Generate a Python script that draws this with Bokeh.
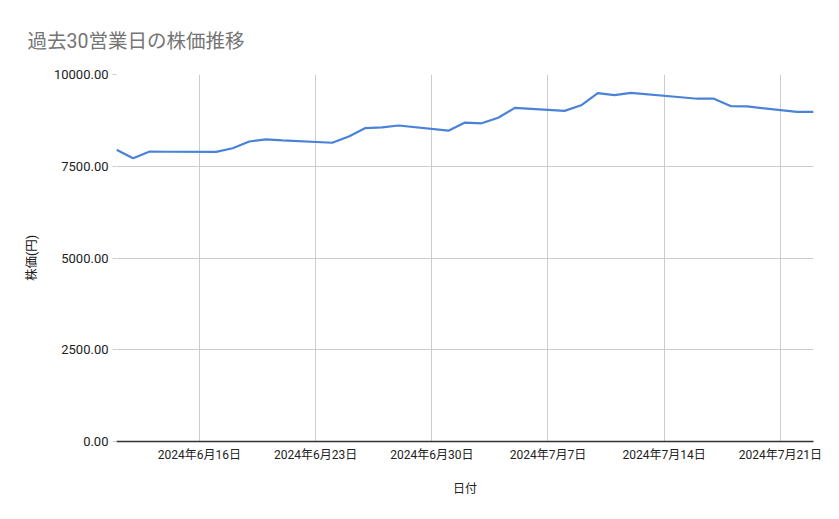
from datetime import datetime
import calendar
from bokeh.plotting import figure
from bokeh.models import Range1d, FixedTicker, NumeralTickFormatter, CustomJSTickFormatter
from bokeh.embed import file_html
from bokeh.resources import INLINE

# ---- data ----
dates = ["2024-06-11", "2024-06-12", "2024-06-13", "2024-06-14", "2024-06-17",
         "2024-06-18", "2024-06-19", "2024-06-20", "2024-06-21", "2024-06-24",
         "2024-06-25", "2024-06-26", "2024-06-27", "2024-06-28", "2024-07-01",
         "2024-07-02", "2024-07-03", "2024-07-04", "2024-07-05", "2024-07-08",
         "2024-07-09", "2024-07-10", "2024-07-11", "2024-07-12", "2024-07-15",
         "2024-07-16", "2024-07-17", "2024-07-18", "2024-07-19", "2024-07-22",
         "2024-07-23"]
prices = [7950, 7720, 7900, 7895, 7890,
          7990, 8175, 8230, 8205, 8140,
          8310, 8540, 8560, 8610, 8470,
          8690, 8670, 8820, 9090, 9010,
          9160, 9490, 9440, 9500, 9380,
          9340, 9340, 9140, 9130, 8980,
          8980]
tick_dates = ["2024-06-16", "2024-06-23", "2024-06-30", "2024-07-07", "2024-07-14", "2024-07-21"]
y_ticks = [0, 2500, 5000, 7500, 10000]
title_text = "過去30営業日の株価推移"
x_label = "日付"
y_label = "株価(円)"

xs = [datetime.strptime(d, "%Y-%m-%d") for d in dates]
tick_ms = [calendar.timegm(datetime.strptime(d, "%Y-%m-%d").timetuple()) * 1000 for d in tick_dates]

FONT = "Roboto, 'Noto Sans CJK JP', sans-serif"

p = figure(width=831, height=511, x_axis_type="datetime",
           x_range=Range1d(xs[0], xs[-1]), y_range=Range1d(0, 10000),
           output_backend="svg", toolbar_location=None,
           min_border_left=116, min_border_right=18, min_border_top=74, min_border_bottom=70)
p.outline_line_color = None
p.background_fill_color = "white"
p.border_fill_color = "white"

p.line(xs, prices, line_color="#4a82d8", line_width=2.2)

# title
p.title.text = title_text
p.title.text_font = FONT
p.title.text_font_size = "19.5px"
p.title.text_font_style = "normal"
p.title.text_color = "#757575"
p.title.align = "left"
p.title.vertical_align = "top"
p.title.offset = -89
p.title.standoff = 40

# x axis
xa = p.xaxis[0]
xa.ticker = FixedTicker(ticks=tick_ms)
xa.formatter = CustomJSTickFormatter(code="""
const d = new Date(tick);
return d.getUTCFullYear() + "年" + (d.getUTCMonth() + 1) + "月" + d.getUTCDate() + "日";
""")
xa.axis_line_color = "#333333"
xa.axis_line_width = 1.3
xa.major_tick_line_color = None
xa.minor_tick_line_color = None
xa.major_label_text_font = FONT
xa.major_label_text_font_size = "12px"
xa.major_label_text_color = "#222222"
xa.major_label_standoff = 0
xa.axis_label = x_label
xa.axis_label_text_font = FONT
xa.axis_label_text_font_size = "12px"
xa.axis_label_text_font_style = "normal"
xa.axis_label_text_color = "#222222"
xa.axis_label_standoff = 17

# y axis
ya = p.yaxis[0]
ya.ticker = FixedTicker(ticks=y_ticks)
ya.formatter = NumeralTickFormatter(format="0.00")
ya.axis_line_color = None
ya.major_tick_line_color = "#cccccc"
ya.major_tick_in = 0
ya.major_tick_out = 4
ya.minor_tick_line_color = None
ya.major_label_text_font = FONT
ya.major_label_text_font_size = "13px"
ya.major_label_text_color = "#222222"
ya.major_label_standoff = 4
ya.axis_label = y_label
ya.axis_label_text_font = FONT
ya.axis_label_text_font_size = "12.5px"
ya.axis_label_text_font_style = "normal"
ya.axis_label_text_color = "#222222"
ya.axis_label_standoff = 12

p.xgrid.grid_line_color = "#cccccc"
p.ygrid.grid_line_color = "#cccccc"
p.xgrid.ticker = FixedTicker(ticks=tick_ms)
p.ygrid.ticker = FixedTicker(ticks=y_ticks)

open("out.html", "w").write(file_html(p, INLINE))
